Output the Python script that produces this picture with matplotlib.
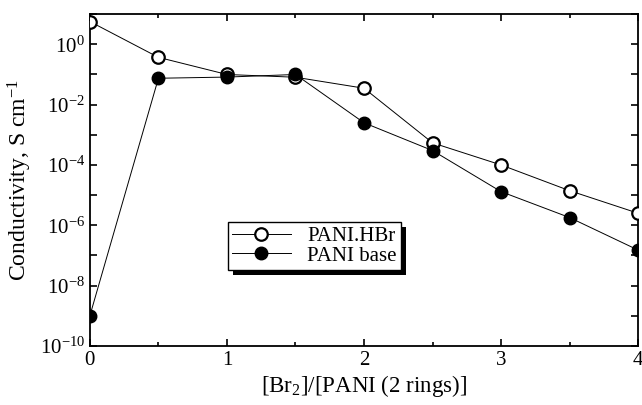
import numpy as np
import matplotlib
matplotlib.use('Agg')
import matplotlib.pyplot as plt
from matplotlib.patches import Rectangle

plt.rcParams['font.family'] = ['Liberation Serif', 'DejaVu Serif']
plt.rcParams['mathtext.fontset'] = 'custom'
plt.rcParams['mathtext.rm'] = 'Liberation Serif'
plt.rcParams['mathtext.it'] = 'Liberation Serif:italic'

# data
ratio = [0, 0.5, 1, 1.5, 2, 2.5, 3, 3.5, 4]
hbr = [5.7, 0.37, 0.10, 0.081, 0.035, 5.4e-4, 1.0e-4, 1.4e-5, 2.5e-6]
base = [1e-9, 0.075, 0.082, 0.10, 2.5e-3, 3.0e-4, 1.3e-5, 1.8e-6, 1.5e-7]
ytick_exp = np.arange(-10, 2)

fig = plt.figure(figsize=(6.42, 4.05), dpi=100)
ax = fig.add_axes([0.140, 0.146, 0.854, 0.819])

l1, = ax.plot(ratio, hbr, '-o', color='black', lw=0.7, ms=9, mfc='white', mec='black',
              mew=1.6, label='PANI.HBr', zorder=3)
l2, = ax.plot(ratio, base, '-o', color='black', lw=0.7, ms=9, mfc='black', mec='black',
              label='PANI base', zorder=3)
for ln in (l1, l2):
    ln.set_clip_path(ax.patch)

ax.set_yscale('log')
ax.set_xlim(0, 4)
ax.set_ylim(1e-10, 1e1)
ax.set_yticks([10.0 ** e for e in ytick_exp])
ax.set_yticklabels(['$10^{%d}$' % e if e % 2 == 0 else '' for e in ytick_exp])
ax.yaxis.set_minor_locator(matplotlib.ticker.NullLocator())
ax.set_xticks([0, 1, 2, 3, 4])
ax.set_xticks([0.5, 1.5, 2.5, 3.5], minor=True)

ax.tick_params(which='both', direction='in', top=True, right=True, width=1.2)
ax.tick_params(axis='y', labelsize=15)
ax.tick_params(axis='x', labelsize=15, pad=4)
ax.tick_params(which='major', length=5)
ax.tick_params(which='minor', length=3)
for s in ax.spines.values():
    s.set_linewidth(1.3)

ax.set_xlabel('[Br$_2$]/[PANI (2 rings)]', fontsize=16.5, labelpad=2)
ax.set_ylabel('Conductivity, S cm$^{-1}$', fontsize=17, labelpad=4)

leg = ax.legend(loc='lower left', bbox_to_anchor=(0.252, 0.229), borderaxespad=0,
                fontsize=15, handlelength=2.8, fancybox=False, framealpha=1,
                edgecolor='black', borderpad=0.2, labelspacing=0.0, handletextpad=0.8)
leg.get_frame().set_linewidth(1.0)
leg.set_zorder(5)

# thick black drop shadow behind the legend box
fig.canvas.draw()
bb = leg.get_window_extent().transformed(fig.transFigure.inverted())
dx, dy = 5 / 642, 5 / 405
shadow = Rectangle((bb.x0 + dx, bb.y0 - dy), bb.width, bb.height,
                   transform=fig.transFigure, facecolor='black',
                   edgecolor='none', zorder=4, clip_on=False)
ax.add_artist(shadow)

fig.savefig('out.png', dpi=100)
